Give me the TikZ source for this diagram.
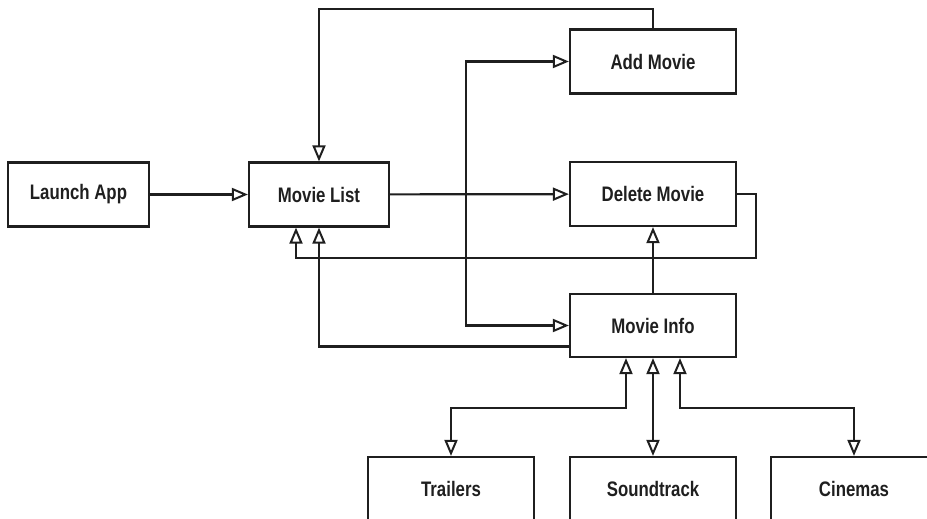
\documentclass[tikz,border=0pt]{standalone}
\usepackage{fontspec}
\setmainfont{Liberation Sans}[FakeStretch=0.8]
\usepackage{tikz}
\usetikzlibrary{arrows.meta}
\tikzset{
	screen/.style={draw, line width=2.2pt, minimum width=166pt, minimum height=64pt,
		inner sep=0pt, font=\fontsize{21}{24}\selectfont\bfseries},
	flow/.style={line width=2.2pt, -{Triangle[open, length=16pt, width=13pt, line width=2pt]}},
	twoway/.style={line width=2.2pt, {Triangle[open, length=16pt, width=13pt, line width=2pt]}-{Triangle[open, length=16pt, width=13pt, line width=2pt]}}
}
\begin{document}
\begin{tikzpicture}[x=1pt, y=-1pt, color={black!88}]
	\useasboundingbox (0,0) rectangle (927,519);
	\clip (0,0) rectangle (927,519);
	\node[screen, minimum width=141pt] (launch) at (78.5,194.5) {Launch App};
	\node[screen, minimum width=140pt] (list) at (319,194.5) {Movie List};
	\node[screen] (add) at (653,61.5) {Add Movie};
	\node[screen] (delete) at (653,194) {Delete Movie};
	\node[screen, minimum height=63pt] (info) at (653,325.5) {Movie Info};
	\node[screen] (trailers) at (451,489) {Trailers};
	\node[screen] (soundtrack) at (653,489) {Soundtrack};
	\node[screen] (cinemas) at (854,489) {Cinemas};
	\coordinate (top) at (319,9);
	\coordinate (branch) at (466,194);
	\coordinate (loop) at (756,258);
	\coordinate (bus) at (653,408);
	\path[flow]
	(launch) edge (list)
	(list) edge (delete)
	(info) edge (delete);
	\draw[flow] (add.north) |- (top) -- (list.north);
	\draw[twoway] (add.west) -| (branch) |- (info.west);
	\draw[flow] (delete.east) -| (loop) -| ([xshift=-23pt]list.south);
	\draw[flow] ([yshift=-21pt]info.west) -| (list.south);
	\draw[twoway] ([xshift=-27pt]info.south) -- ([xshift=-27pt]info.south |- bus) -| (trailers.north);
	\draw[twoway] (info.south) -- (soundtrack.north);
	\draw[twoway] ([xshift=27pt]info.south) -- ([xshift=27pt]info.south |- bus) -| (cinemas.north);
\end{tikzpicture}
\end{document}
